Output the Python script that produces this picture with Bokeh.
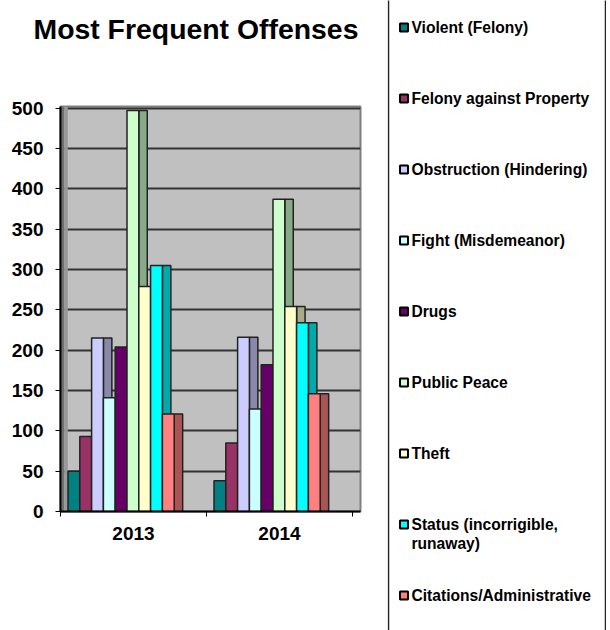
from bokeh.plotting import figure
from bokeh.embed import file_html
from bokeh.resources import INLINE
from bokeh.layouts import row, column
from bokeh.models import Range1d, FixedTicker, BoxAnnotation, ColumnDataSource
from bokeh.core.properties import value

years = ["2013", "2014"]
offenses = ["Violent (Felony)", "Felony against Property", "Obstruction (Hindering)",
            "Fight (Misdemeanor)", "Drugs", "Public Peace", "Theft",
            "Status (incorrigible,\nrunaway)", "Citations/Administrative"]
v2013 = [50, 93, 215, 141, 204, 497, 279, 305, 121]
v2014 = [38, 85, 216, 127, 182, 387, 254, 234, 146]
front = ["#008080", "#993366", "#CCCCFF", "#CCFFFF", "#660066", "#CCFFCC", "#FFFFCC", "#00FFFF", "#FF8080"]
side = ["#005555", "#662244", "#8888AA", "#88AAAA", "#440044", "#88AA88", "#AAAA88", "#00AAAA", "#AA5555"]
title_text = "Most Frequent Offenses"
y_ticks = list(range(0, 501, 50))

FONT = "Liberation Sans"
BAR_W = 0.0808
DEPTH = 0.058
START = 0.0515

# title strip
t = figure(width=387, height=56, output_backend="svg", toolbar_location=None,
           x_range=Range1d(0, 387), y_range=Range1d(56, 0),
           min_border=0, min_border_left=0, min_border_right=0, min_border_top=0, min_border_bottom=0,
           outline_line_color=None, background_fill_color="white")
t.axis.visible = False
t.grid.visible = False
t.text(x=[33], y=[28], text=[title_text], text_font=value(FONT), text_font_style="bold",
       text_font_size="28.4px", text_color="black", text_baseline="middle", text_align="left")

p = figure(width=387, height=574, output_backend="svg", toolbar_location=None,
           x_range=Range1d(0, 300 / 146), y_range=Range1d(0, 502),
           min_border_left=60, min_border_right=27, min_border_top=50, min_border_bottom=119,
           background_fill_color="#C0C0C0", border_fill_color="white",
           outline_line_color="#808080", outline_line_width=2)

p.add_layout(BoxAnnotation(left=0, right=0.025, fill_color="#707070", fill_alpha=1, line_alpha=0, level="underlay"))
p.add_layout(BoxAnnotation(left=0.025, right=0.05, fill_color="#989898", fill_alpha=1, line_alpha=0, level="underlay"))

for i, name in enumerate(offenses):
    xs = [k + START + BAR_W * (i + 0.5) for k in range(len(years))]
    src = ColumnDataSource(dict(x=xs, side_x=[x + BAR_W / 2 + DEPTH / 2 for x in xs],
                                top=[v2013[i], v2014[i]]))
    p.vbar(x="side_x", top="top", bottom=0, width=DEPTH, source=src,
           fill_color=side[i], line_color="#222222", line_width=1.5)
    p.vbar(x="x", top="top", bottom=0, width=BAR_W, source=src,
           fill_color=front[i], line_color="#222222", line_width=1.5)

p.xgrid.visible = False
p.ygrid.ticker = FixedTicker(ticks=y_ticks)
p.ygrid.grid_line_color = "#333333"
p.ygrid.grid_line_width = 2
p.ygrid.level = "underlay"

p.yaxis.ticker = FixedTicker(ticks=y_ticks)
p.xaxis.ticker = FixedTicker(ticks=[0.5, 1.5], minor_ticks=[0, 1, 2])
p.xaxis.major_label_overrides = {0.5: years[0], 1.5: years[1]}
p.xaxis.major_tick_out = 0
p.xaxis.major_tick_in = 0
p.xaxis.minor_tick_out = 5
p.xaxis.minor_tick_in = 0
p.yaxis.major_tick_out = 5
p.yaxis.major_tick_in = 0
p.yaxis.minor_tick_out = 0
p.yaxis.minor_tick_in = 0
for ax in (p.xaxis, p.yaxis):
    ax.axis_line_color = "black"
    ax.axis_line_width = 2
    ax.major_tick_line_color = "black"
    ax.minor_tick_line_color = "black"
    ax.major_label_text_font = FONT
    ax.major_label_text_font_style = "bold"
    ax.major_label_text_font_size = "19px"
    ax.major_label_text_color = "black"
p.xaxis.major_label_standoff = 10
p.yaxis.major_label_standoff = 12

# legend panel
ranks = list(range(len(offenses)))
lg = figure(width=219, height=630, output_backend="svg", toolbar_location=None,
            x_range=Range1d(0, 219), y_range=Range1d((630 - 27) / 71, -27 / 71),
            min_border=0, min_border_left=0, min_border_right=0, min_border_top=0, min_border_bottom=0,
            outline_line_color=None, background_fill_color="white")
lg.axis.visible = False
lg.grid.visible = False
lg.segment(x0=[1, 218], x1=[1, 218], y0=-1, y1=10, line_color="#222222", line_width=1.5)
lg.scatter(x=16.5, y=ranks, marker="square", size=8, fill_color=front, line_color="black", line_width=2)
lg.text(x=24, y=ranks, text=offenses, text_font=value(FONT), text_font_style="bold",
        text_font_size="15.6px", text_baseline="top", y_offset=-9, text_line_height=1.15, text_color="black")

layout = row(column(row(t), row(p), spacing=0), column(lg), spacing=0)
open("out.html", "w").write(file_html(layout, INLINE))
